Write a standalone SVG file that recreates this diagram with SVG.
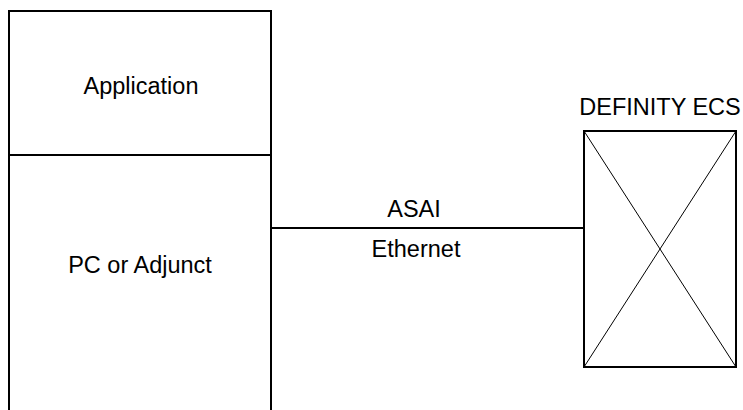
<svg xmlns="http://www.w3.org/2000/svg" width="743" height="410" viewBox="0 0 743 410">
<style>
.t{font-family:"Liberation Sans",Arial,sans-serif;font-size:23.5px;fill:#000;text-anchor:middle}
.s{stroke:#000;stroke-width:2;fill:none}
.x{stroke:#000;stroke-width:1;fill:none}
</style>
<rect width="743" height="410" fill="#fff"/>
<g id="pc-adjunct">
<path class="s" d="M9,410 V11 H271 V410"/>
<line class="s" x1="9" y1="155" x2="271" y2="155"/>
<text class="t" x="141" y="94">Application</text>
<text class="t" x="140" y="273">PC or Adjunct</text>
</g>
<g id="definity-ecs">
<rect class="s" x="584" y="131" width="152" height="236"/>
<line class="x" x1="584" y1="131" x2="736" y2="367"/>
<line class="x" x1="736" y1="131" x2="584" y2="367"/>
<text class="t" x="660" y="115">DEFINITY ECS</text>
</g>
<g id="connectors">
<line class="s" x1="271" y1="228" x2="584" y2="228"/>
<text class="t" x="414" y="217">ASAI</text>
<text class="t" x="416" y="257">Ethernet</text>
</g>
</svg>
